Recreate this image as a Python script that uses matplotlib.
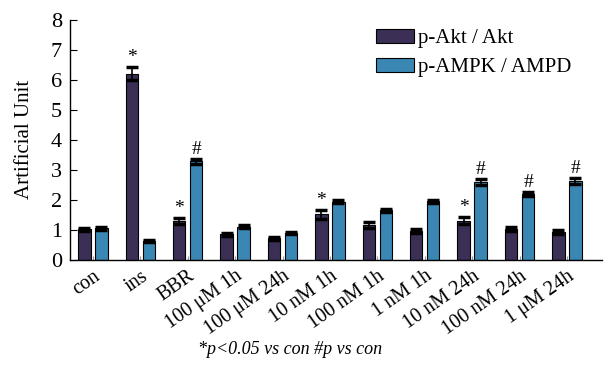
import numpy as np
import matplotlib.pyplot as plt

plt.rcParams['font.family'] = ['Liberation Serif', 'DejaVu Serif']

groups = ["con", "ins", "BBR", "100 μM 1h", "100 μM 24h", "10 nM 1h",
          "100 nM 1h", "1 nM 1h", "10 nM 24h", "100 nM 24h", "1 μM 24h"]
akt = [1.02, 6.2, 1.3, 0.85, 0.73, 1.52, 1.15, 0.97, 1.3, 1.03, 0.92]
akt_err = [0.05, 0.22, 0.1, 0.06, 0.05, 0.15, 0.1, 0.07, 0.12, 0.07, 0.07]
ampk = [1.05, 0.64, 3.28, 1.11, 0.89, 1.94, 1.65, 1.96, 2.6, 2.2, 2.62]
ampk_err = [0.05, 0.04, 0.08, 0.05, 0.04, 0.05, 0.05, 0.05, 0.1, 0.07, 0.1]
akt_mark = ["", "*", "*", "", "", "*", "", "", "*", "", ""]
ampk_mark = ["", "", "#", "", "", "", "", "", "#", "#", "#"]

fig = plt.figure(figsize=(6.05, 3.8), dpi=100)
ax = fig.add_axes([0.116, 0.316, 0.879, 0.632])

x = np.arange(len(groups))
w = 0.26
off = 0.18
c1 = '#3b2f56'
c2 = '#3a87b4'
ax.bar(x - off, akt, w, color=c1, edgecolor='black', linewidth=0.8, label='p-Akt / Akt')
ax.bar(x + off, ampk, w, color=c2, edgecolor='black', linewidth=0.8, label='p-AMPK / AMPD')
ax.errorbar(x - off, akt, yerr=akt_err, fmt='none', ecolor='black', elinewidth=1.2, capsize=4.5, capthick=2.5)
ax.errorbar(x + off, ampk, yerr=ampk_err, fmt='none', ecolor='black', elinewidth=1.2, capsize=4.5, capthick=2.5)

for i in range(len(groups)):
    if akt_mark[i]:
        ax.text(x[i] - off, akt[i] + akt_err[i] + 0.03, akt_mark[i], ha='center', va='bottom', fontsize=14)
    if ampk_mark[i]:
        ax.text(x[i] + off, ampk[i] + ampk_err[i] + 0.03, ampk_mark[i], ha='center', va='bottom', fontsize=14)

ax.set_xlim(-0.48, 10.74)
ax.set_ylim(0, 8)
ax.set_yticks(range(0, 9))
ax.tick_params(axis='y', direction='in', length=5, labelsize=16, pad=6)
ax.set_xticks(x)
ax.set_xticklabels(groups, rotation=35, ha='right', rotation_mode='anchor', fontsize=14.5)
ax.tick_params(axis='x', direction='in', length=3, color='#999999', pad=5)
for s in ['top', 'right']:
    ax.spines[s].set_visible(False)
ax.spines['left'].set_linewidth(1.0)
ax.spines['bottom'].set_linewidth(1.0)
ax.set_ylabel("Artificial Unit", fontsize=15, labelpad=12)

ax.legend(loc='upper left', bbox_to_anchor=(0.54, 1.04), frameon=False, fontsize=15,
          handlelength=1.8, handleheight=0.7, handletextpad=0.2, labelspacing=0.45)

fig.text(0.48, 0.08, "*p<0.05 vs con #p vs con", ha='center', va='center', fontsize=13, style='italic')

fig.savefig("out.png", dpi=100)
